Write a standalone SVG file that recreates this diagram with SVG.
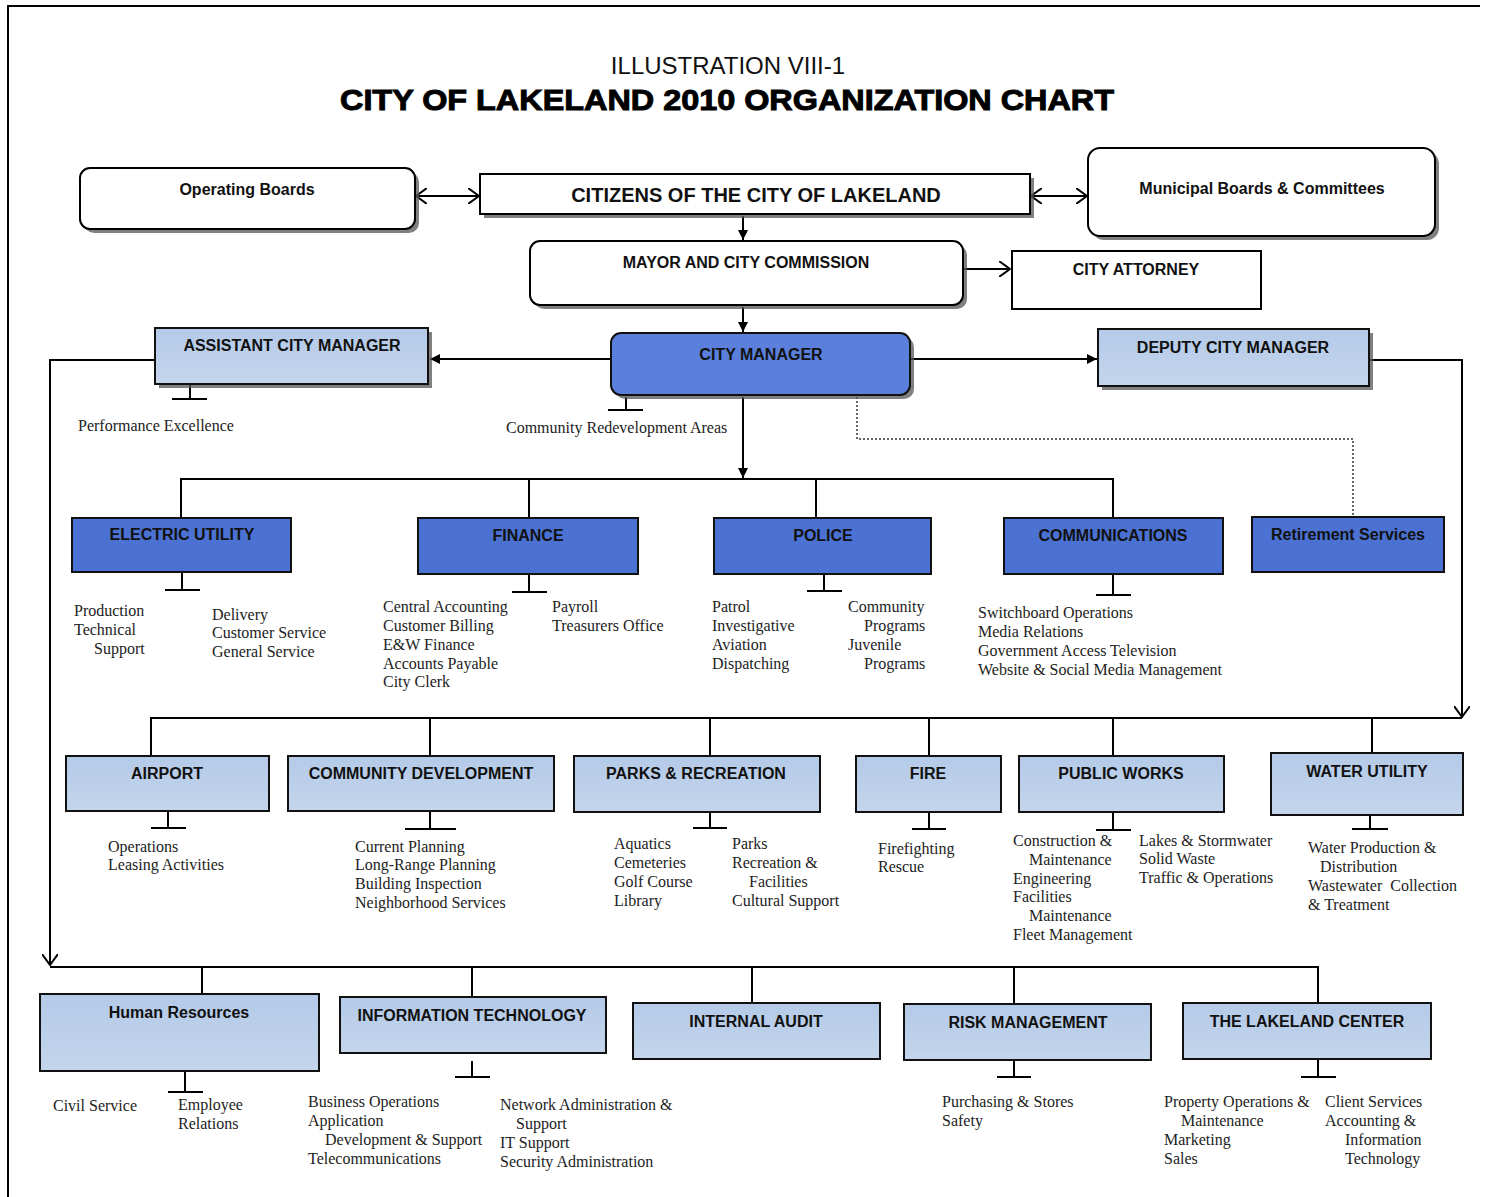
<svg xmlns="http://www.w3.org/2000/svg" width="1488" height="1197" viewBox="0 0 1488 1197">
<defs>
<marker id="fa" viewBox="0 0 10 10" refX="10" refY="5" markerWidth="10" markerHeight="10" markerUnits="userSpaceOnUse" orient="auto"><path d="M0,0 L10,5 L0,10 z" fill="#000"/></marker>
<marker id="oa" viewBox="0 0 12 16" refX="11" refY="8" markerWidth="12" markerHeight="16" markerUnits="userSpaceOnUse" orient="auto-start-reverse"><path d="M0,0 L11,8 L0,16" fill="none" stroke="#000" stroke-width="2"/></marker>
<linearGradient id="lb" x1="0" y1="0" x2="0" y2="1"><stop offset="0" stop-color="#b4cae8"/><stop offset="1" stop-color="#c4d5ec"/></linearGradient>
</defs>
<style>
.h{font-family:"Liberation Sans",Arial,sans-serif;font-weight:bold;font-size:16px;fill:#111;text-anchor:middle}
.s{font-family:"Liberation Serif","Times New Roman",serif;font-size:16px;fill:#222}
.ln{stroke:#000;stroke-width:2;fill:none}
.w{fill:#fff;stroke:#000;stroke-width:2}
.db{fill:#4b72d2;stroke:#111;stroke-width:2}
.lbx{fill:url(#lb);stroke:#111;stroke-width:2}
.sh{fill:#555;opacity:.75}
</style>
<rect x="0" y="0" width="1488" height="1197" fill="#fff"/>
<path d="M8,1197 V6 H1480" fill="none" stroke="#000" stroke-width="2"/>
<text x="728" y="74" style="font-family:'Liberation Sans',Arial,sans-serif;font-size:24px;text-anchor:middle;fill:#111">ILLUSTRATION VIII-1</text>
<text x="727" y="110" textLength="774" lengthAdjust="spacingAndGlyphs" style="font-family:'Liberation Sans',Arial,sans-serif;font-weight:900;font-size:30px;text-anchor:middle;fill:#000;stroke:#000;stroke-width:1">CITY OF LAKELAND 2010 ORGANIZATION CHART</text>

<g id="connectors">
<line class="ln" x1="416" y1="196" x2="479" y2="196" marker-start="url(#oa)" marker-end="url(#oa)"/>
<line class="ln" x1="1031" y1="196" x2="1087" y2="196" marker-start="url(#oa)" marker-end="url(#oa)"/>
<line class="ln" x1="743" y1="216" x2="743" y2="240" marker-end="url(#fa)"/>
<line class="ln" x1="964" y1="269" x2="1010" y2="269" marker-end="url(#oa)"/>
<line class="ln" x1="743" y1="307" x2="743" y2="332" marker-end="url(#fa)"/>
<line class="ln" x1="611" y1="359" x2="430" y2="359" marker-end="url(#fa)"/>
<line class="ln" x1="911" y1="359" x2="1097" y2="359" marker-end="url(#fa)"/>
<path class="ln" d="M155,360 H50 V965" marker-end="url(#oa)"/>
<path class="ln" d="M1370,360 H1462 V717" marker-end="url(#oa)"/>
<path class="ln" d="M190,385 V399 M172,399 H207"/>
<path class="ln" d="M626,397 V410 M608,410 H643"/>
<line class="ln" x1="743" y1="397" x2="743" y2="478" marker-end="url(#fa)"/>
<path d="M857,397 V439 H1353 V516" fill="none" stroke="#333" stroke-width="1.5" stroke-dasharray="2,2"/>
<path class="ln" d="M181,518 V479 H1113 V518 M529,479 V518 M816,479 V518"/>
<path class="ln" d="M182,573 V590 M165,590 H200"/>
<path class="ln" d="M529,575 V592 M512,592 H547"/>
<path class="ln" d="M824,575 V591 M807,591 H842"/>
<path class="ln" d="M1113,575 V595 M1096,595 H1131"/>
<path class="ln" d="M151,756 V718 H1462 M430,718 V756 M710,718 V756 M929,718 V756 M1113,718 V756 M1372,718 V753"/>
<path class="ln" d="M168,812 V828 M151,828 H186"/>
<path class="ln" d="M430,812 V829 M405,829 H456"/>
<path class="ln" d="M710,812 V828 M693,828 H727"/>
<path class="ln" d="M929,813 V829 M912,829 H946"/>
<path class="ln" d="M1113,813 V830 M1096,830 H1131"/>
<path class="ln" d="M1370,816 V829 M1352,829 H1388"/>
<path class="ln" d="M50,967 H1318 V1003 M202,967 V994 M472,967 V997 M752,967 V1003 M1014,967 V1004"/>
<path class="ln" d="M185,1072 V1092 M168,1092 H203"/>
<path class="ln" d="M472,1061 V1077 M455,1077 H490"/>
<path class="ln" d="M1014,1061 V1077 M997,1077 H1031"/>
<path class="ln" d="M1318,1060 V1077 M1301,1077 H1336"/>
</g>

<g id="operating-boards"><rect class="sh" x="84" y="172" width="335" height="61" rx="10"/><rect class="w" x="80" y="168" width="335" height="61" rx="10"/><text class="h" x="247" y="195">Operating Boards</text></g>
<g id="citizens"><rect class="sh" x="484" y="178" width="550" height="40"/><rect class="w" x="480" y="174" width="550" height="40"/><text class="h" x="756" y="202" style="font-size:20px">CITIZENS OF THE CITY OF LAKELAND</text></g>
<g id="municipal-boards"><rect class="sh" x="1092" y="152" width="347" height="88" rx="12"/><rect class="w" x="1088" y="148" width="347" height="88" rx="12"/><text class="h" x="1262" y="194">Municipal Boards &amp; Committees</text></g>
<g id="mayor"><rect class="sh" x="534" y="245" width="433" height="64" rx="10"/><rect class="w" x="530" y="241" width="433" height="64" rx="10"/><text class="h" x="746" y="268">MAYOR AND CITY COMMISSION</text></g>
<g id="city-attorney"><rect class="w" x="1012" y="251" width="249" height="58"/><text class="h" x="1136" y="275">CITY ATTORNEY</text></g>
<g id="city-manager"><rect class="sh" x="615" y="337" width="299" height="62" rx="10"/><rect x="611" y="333" width="299" height="62" rx="10" fill="#5a80dc" stroke="#111" stroke-width="2"/><text class="h" x="761" y="360">CITY MANAGER</text></g>
<g id="assistant-city-manager"><rect class="sh" x="159" y="332" width="273" height="56"/><rect class="lbx" x="155" y="328" width="273" height="56"/><text class="h" x="292" y="351">ASSISTANT CITY MANAGER</text><text class="s" x="78" y="431">Performance Excellence</text></g>
<g id="deputy-city-manager"><rect class="sh" x="1102" y="333" width="271" height="57"/><rect class="lbx" x="1098" y="329" width="271" height="57"/><text class="h" x="1233" y="353">DEPUTY CITY MANAGER</text></g>
<g id="cra"><text class="s" x="506" y="433">Community Redevelopment Areas</text></g>

<g id="electric-utility"><rect class="db" x="72" y="518" width="219" height="54"/><text class="h" x="182" y="540">ELECTRIC UTILITY</text>
<text class="s" x="74" y="616">Production</text><text class="s" x="74" y="635">Technical</text><text class="s" x="94" y="654">Support</text>
<text class="s" x="212" y="620">Delivery</text><text class="s" x="212" y="638">Customer Service</text><text class="s" x="212" y="657">General Service</text></g>
<g id="finance"><rect class="db" x="418" y="518" width="220" height="56"/><text class="h" x="528" y="541">FINANCE</text>
<text class="s" x="383" y="612">Central Accounting</text><text class="s" x="383" y="631">Customer Billing</text><text class="s" x="383" y="650">E&amp;W Finance</text><text class="s" x="383" y="669">Accounts Payable</text><text class="s" x="383" y="687">City Clerk</text>
<text class="s" x="552" y="612">Payroll</text><text class="s" x="552" y="631">Treasurers Office</text></g>
<g id="police"><rect class="db" x="714" y="518" width="217" height="56"/><text class="h" x="823" y="541">POLICE</text>
<text class="s" x="712" y="612">Patrol</text><text class="s" x="712" y="631">Investigative</text><text class="s" x="712" y="650">Aviation</text><text class="s" x="712" y="669">Dispatching</text>
<text class="s" x="848" y="612">Community</text><text class="s" x="864" y="631">Programs</text><text class="s" x="848" y="650">Juvenile</text><text class="s" x="864" y="669">Programs</text></g>
<g id="communications"><rect class="db" x="1004" y="518" width="219" height="56"/><text class="h" x="1113" y="541">COMMUNICATIONS</text>
<text class="s" x="978" y="618">Switchboard Operations</text><text class="s" x="978" y="637">Media Relations</text><text class="s" x="978" y="656">Government Access Television</text><text class="s" x="978" y="675">Website &amp; Social Media Management</text></g>
<g id="retirement-services"><rect class="db" x="1252" y="517" width="192" height="55"/><text class="h" x="1348" y="540">Retirement Services</text></g>

<g id="airport"><rect class="lbx" x="66" y="756" width="203" height="55"/><text class="h" x="167" y="779">AIRPORT</text>
<text class="s" x="108" y="852">Operations</text><text class="s" x="108" y="870">Leasing Activities</text></g>
<g id="community-development"><rect class="lbx" x="288" y="756" width="266" height="55"/><text class="h" x="421" y="779">COMMUNITY DEVELOPMENT</text>
<text class="s" x="355" y="852">Current Planning</text><text class="s" x="355" y="870">Long-Range Planning</text><text class="s" x="355" y="889">Building Inspection</text><text class="s" x="355" y="908">Neighborhood Services</text></g>
<g id="parks-recreation"><rect class="lbx" x="574" y="756" width="246" height="56"/><text class="h" x="696" y="779">PARKS &amp; RECREATION</text>
<text class="s" x="614" y="849">Aquatics</text><text class="s" x="614" y="868">Cemeteries</text><text class="s" x="614" y="887">Golf Course</text><text class="s" x="614" y="906">Library</text>
<text class="s" x="732" y="849">Parks</text><text class="s" x="732" y="868">Recreation &amp;</text><text class="s" x="749" y="887">Facilities</text><text class="s" x="732" y="906">Cultural Support</text></g>
<g id="fire"><rect class="lbx" x="856" y="756" width="145" height="56"/><text class="h" x="928" y="779">FIRE</text>
<text class="s" x="878" y="854">Firefighting</text><text class="s" x="878" y="872">Rescue</text></g>
<g id="public-works"><rect class="lbx" x="1019" y="756" width="205" height="56"/><text class="h" x="1121" y="779">PUBLIC WORKS</text>
<text class="s" x="1013" y="846">Construction &amp;</text><text class="s" x="1029" y="865">Maintenance</text><text class="s" x="1013" y="884">Engineering</text><text class="s" x="1013" y="902">Facilities</text><text class="s" x="1029" y="921">Maintenance</text><text class="s" x="1013" y="940">Fleet Management</text>
<text class="s" x="1139" y="846">Lakes &amp; Stormwater</text><text class="s" x="1139" y="864">Solid Waste</text><text class="s" x="1139" y="883">Traffic &amp; Operations</text></g>
<g id="water-utility"><rect class="lbx" x="1271" y="753" width="192" height="62"/><text class="h" x="1367" y="777">WATER UTILITY</text>
<text class="s" x="1308" y="853">Water Production &amp;</text><text class="s" x="1320" y="872">Distribution</text><text class="s" x="1308" y="891" xml:space="preserve">Wastewater  Collection</text><text class="s" x="1308" y="910">&amp; Treatment</text></g>

<g id="human-resources"><rect class="lbx" x="40" y="994" width="279" height="77"/><text class="h" x="179" y="1018">Human Resources</text>
<text class="s" x="53" y="1111">Civil Service</text><text class="s" x="178" y="1110">Employee</text><text class="s" x="178" y="1129">Relations</text></g>
<g id="information-technology"><rect class="lbx" x="340" y="997" width="266" height="56"/><text class="h" x="472" y="1021">INFORMATION TECHNOLOGY</text>
<text class="s" x="308" y="1107">Business Operations</text><text class="s" x="308" y="1126">Application</text><text class="s" x="325" y="1145">Development &amp; Support</text><text class="s" x="308" y="1164">Telecommunications</text>
<text class="s" x="500" y="1110">Network Administration &amp;</text><text class="s" x="516" y="1129">Support</text><text class="s" x="500" y="1148">IT Support</text><text class="s" x="500" y="1167">Security Administration</text></g>
<g id="internal-audit"><rect class="lbx" x="633" y="1003" width="247" height="56"/><text class="h" x="756" y="1027">INTERNAL AUDIT</text></g>
<g id="risk-management"><rect class="lbx" x="904" y="1004" width="247" height="56"/><text class="h" x="1028" y="1028">RISK MANAGEMENT</text>
<text class="s" x="942" y="1107">Purchasing &amp; Stores</text><text class="s" x="942" y="1126">Safety</text></g>
<g id="lakeland-center"><rect class="lbx" x="1183" y="1003" width="248" height="56"/><text class="h" x="1307" y="1027">THE LAKELAND CENTER</text>
<text class="s" x="1164" y="1107">Property Operations &amp;</text><text class="s" x="1181" y="1126">Maintenance</text><text class="s" x="1164" y="1145">Marketing</text><text class="s" x="1164" y="1164">Sales</text>
<text class="s" x="1325" y="1107">Client Services</text><text class="s" x="1325" y="1126">Accounting &amp;</text><text class="s" x="1345" y="1145">Information</text><text class="s" x="1345" y="1164">Technology</text></g>
</svg>
